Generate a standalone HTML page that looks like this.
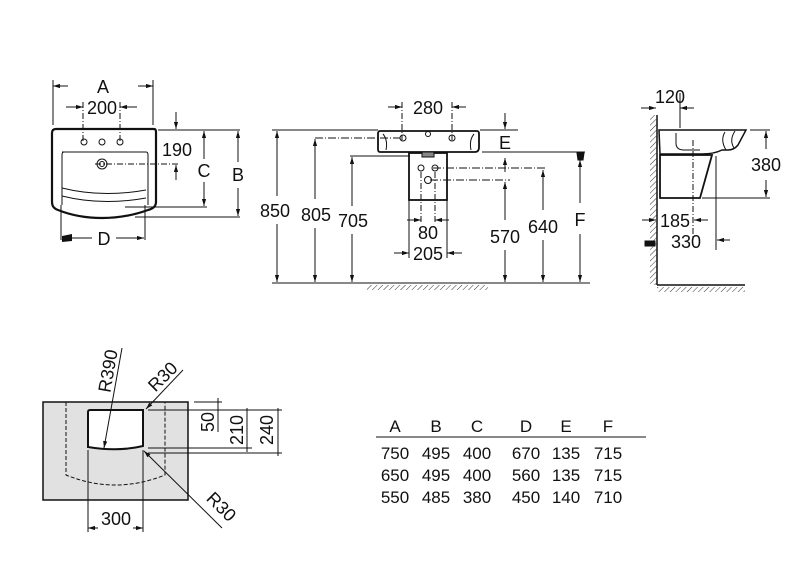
<!DOCTYPE html>
<html><head><style>body{margin:0;background:#fff}svg{display:block}text{font-family:"Liberation Sans",sans-serif;fill:#111}</style></head><body>
<svg width="800" height="574" viewBox="0 0 800 574" xmlns="http://www.w3.org/2000/svg">
<defs>
<marker id="a" viewBox="0 0 10 10" refX="10" refY="5" markerWidth="7" markerHeight="7" orient="auto-start-reverse"><path d="M0,2L10,5L0,8z" fill="#111"/></marker>
<pattern id="h" width="4" height="4" patternUnits="userSpaceOnUse" patternTransform="rotate(45)"><line x1="0" y1="0" x2="0" y2="4" stroke="#333" stroke-width="1"/></pattern>
</defs>
<g stroke="#111" stroke-width="1" fill="none">
<line x1="53" y1="80" x2="53" y2="125"/><line x1="153" y1="80" x2="153" y2="125"/>
<line x1="68" y1="86" x2="53" y2="86" marker-end="url(#a)"/><line x1="138" y1="86" x2="153" y2="86" marker-end="url(#a)"/>
<line x1="66" y1="107" x2="83" y2="107" marker-end="url(#a)"/><line x1="137" y1="107" x2="120" y2="107" marker-end="url(#a)"/>
<line x1="83" y1="102" x2="83" y2="142" stroke-dasharray="6,2,1,2"/><line x1="120" y1="102" x2="120" y2="142" stroke-dasharray="6,2,1,2"/>
<path d="M56,129H154Q156,129 156,132V202Q156,208 148,210Q126,218 102,218Q78,218 58,210Q52,208 52,202V133Q52,129 56,129Z" stroke-width="2.2"/>
<path d="M62,152H146Q148,152 148,155V205M62,205V155Q62,152 64,152"/>
<path d="M62,188Q102,198 146,190M62,196Q102,206 146,198"/>
<g stroke-width="1"><circle cx="84" cy="142" r="3"/><circle cx="102" cy="142" r="3"/><circle cx="120" cy="142" r="3"/><circle cx="102" cy="164" r="5"/><circle cx="102" cy="164" r="2.5"/></g>
<line x1="95" y1="164" x2="180" y2="164" stroke-dasharray="6,2,1,2"/>
<line x1="158" y1="130" x2="240" y2="130"/><line x1="125" y1="207" x2="207" y2="207"/><line x1="135" y1="217" x2="240" y2="217"/>
<line x1="176" y1="112" x2="176" y2="129" marker-end="url(#a)"/><line x1="176" y1="180" x2="176" y2="165" marker-end="url(#a)"/>
<line x1="204" y1="159" x2="204" y2="131" marker-end="url(#a)"/><line x1="204" y1="182" x2="204" y2="206" marker-end="url(#a)"/>
<line x1="238" y1="162" x2="238" y2="131" marker-end="url(#a)"/><line x1="238" y1="188" x2="238" y2="216" marker-end="url(#a)"/>
<line x1="61" y1="205" x2="61" y2="240"/><line x1="145" y1="205" x2="145" y2="240"/>
<line x1="92" y1="238" x2="62" y2="238" marker-end="url(#a)"/><line x1="116" y1="238" x2="144" y2="238" marker-end="url(#a)"/>
<line x1="272" y1="130" x2="378" y2="130"/><line x1="272" y1="283" x2="590" y2="283"/>
<rect x="367" y="285" width="121" height="5" fill="url(#h)" stroke="none"/>
<line x1="277" y1="196" x2="277" y2="131" marker-end="url(#a)"/><line x1="277" y1="224" x2="277" y2="282" marker-end="url(#a)"/>
<line x1="315" y1="199" x2="315" y2="139" marker-end="url(#a)"/><line x1="315" y1="228" x2="315" y2="282" marker-end="url(#a)"/>
<line x1="352" y1="206" x2="352" y2="157" marker-end="url(#a)"/><line x1="352" y1="234" x2="352" y2="282" marker-end="url(#a)"/>
<line x1="315" y1="138" x2="400" y2="138" stroke-dasharray="8,2,1,2"/>
<line x1="350" y1="156" x2="410" y2="156"/>
<path d="M380,131H477Q479,131 479,134V147Q479,152 475,152H380Q378,152 378,149V134Q378,131 380,131Z" stroke-width="1.8"/>
<path d="M383,134Q388,140 386,150M474,134Q469,140 471,150"/>
<rect x="409" y="153" width="38" height="47" stroke-width="1.8"/>
<rect x="422" y="152" width="12" height="5" fill="#888"/>
<circle cx="403" cy="138" r="3"/><circle cx="428" cy="134" r="2.5"/><circle cx="452" cy="138" r="3"/>
<circle cx="421" cy="168" r="3"/><circle cx="435" cy="168" r="3"/><circle cx="428" cy="180" r="3.5"/>
<line x1="402" y1="102" x2="402" y2="140" stroke-dasharray="6,2,1,2"/><line x1="452" y1="102" x2="452" y2="140" stroke-dasharray="6,2,1,2"/>
<line x1="388" y1="107" x2="402" y2="107" marker-end="url(#a)"/><line x1="466" y1="107" x2="452" y2="107" marker-end="url(#a)"/>
<line x1="433" y1="168" x2="547" y2="168" stroke-dasharray="8,2,1,2"/><line x1="430" y1="180" x2="510" y2="180" stroke-dasharray="8,2,1,2"/>
<line x1="480" y1="130" x2="518" y2="130"/><line x1="482" y1="152" x2="585" y2="152"/>
<line x1="505" y1="113" x2="505" y2="129" marker-end="url(#a)"/>
<line x1="505" y1="172" x2="505" y2="158" marker-end="url(#a)"/>
<line x1="505" y1="220" x2="505" y2="182" marker-end="url(#a)"/><line x1="505" y1="250" x2="505" y2="282" marker-end="url(#a)"/>
<line x1="543" y1="210" x2="543" y2="170" marker-end="url(#a)"/><line x1="543" y1="240" x2="543" y2="282" marker-end="url(#a)"/>
<line x1="580" y1="203" x2="580" y2="160" marker-end="url(#a)"/><line x1="580" y1="234" x2="580" y2="282" marker-end="url(#a)"/>
<path d="M577,153H584L583,160H578Z" fill="#111"/>
<line x1="409" y1="200" x2="409" y2="258"/><line x1="447" y1="200" x2="447" y2="258"/>
<line x1="421" y1="172" x2="421" y2="222" stroke-dasharray="6,2,1,2"/><line x1="435" y1="172" x2="435" y2="222" stroke-dasharray="6,2,1,2"/>
<line x1="407" y1="220" x2="421" y2="220" marker-end="url(#a)"/><line x1="449" y1="220" x2="435" y2="220" marker-end="url(#a)"/>
<line x1="394" y1="253" x2="409" y2="253" marker-end="url(#a)"/><line x1="462" y1="253" x2="447" y2="253" marker-end="url(#a)"/>
<line x1="657" y1="115" x2="657" y2="285" stroke-width="1.5"/><rect x="650" y="115" width="7" height="170" fill="url(#h)" stroke="none"/>
<line x1="657" y1="285" x2="745" y2="285" stroke-width="1.5"/><rect x="657" y="287" width="88" height="5" fill="url(#h)" stroke="none"/>
<path d="M659,130H746L738,145Q734,150 728,150L722,150Q714,154 702,154H660Z" stroke-width="1.5"/>
<path d="M725,132Q720,140 726,150M735,131Q729,140 734,148"/>
<path d="M676,133V143Q676,150 684,150H700"/>
<path d="M660,155H712L700,198H660Z" stroke-width="1.8"/>
<line x1="693" y1="140" x2="693" y2="240" stroke-dasharray="6,2,1,2"/>
<line x1="716" y1="156" x2="716" y2="250"/>
<line x1="680" y1="93" x2="680" y2="128"/>
<line x1="641" y1="108" x2="656" y2="108" marker-end="url(#a)"/><line x1="694" y1="108" x2="680" y2="108" marker-end="url(#a)"/>
<line x1="750" y1="130" x2="770" y2="130"/><line x1="702" y1="198" x2="770" y2="198"/>
<line x1="766" y1="149" x2="766" y2="131" marker-end="url(#a)"/><line x1="766" y1="180" x2="766" y2="197" marker-end="url(#a)"/>
<line x1="642" y1="220" x2="656" y2="220" marker-end="url(#a)"/><line x1="708" y1="220" x2="694" y2="220" marker-end="url(#a)"/>
<line x1="730" y1="240" x2="717" y2="240" marker-end="url(#a)"/>
<path d="M645,241H655V246H645Z" fill="#111"/>
<rect x="43" y="402" width="145" height="98" fill="#e1e1e1" stroke-width="1.5"/>
<path d="M66,402V475Q115,495 165,475V402" stroke-dasharray="4,2"/>
<path d="M90,410H143V446Q118,452 88,447V412Q88,410 90,410Z" fill="#fff" stroke-width="2"/>
<line x1="88" y1="450" x2="88" y2="532"/><line x1="143" y1="450" x2="143" y2="532"/>
<line x1="98" y1="528" x2="88" y2="528" marker-end="url(#a)"/><line x1="133" y1="528" x2="143" y2="528" marker-end="url(#a)"/>
<line x1="194" y1="402" x2="222" y2="402"/><line x1="148" y1="410" x2="282" y2="410"/><line x1="148" y1="448" x2="252" y2="448"/><line x1="148" y1="453" x2="282" y2="453"/>
<line x1="218" y1="398" x2="218" y2="432"/><line x1="247" y1="408" x2="247" y2="452"/><line x1="278" y1="408" x2="278" y2="456"/>
<line x1="122" y1="348" x2="104" y2="448" marker-end="url(#a)"/>
<line x1="183" y1="370" x2="146" y2="409" marker-end="url(#a)"/>
<line x1="222" y1="528" x2="144" y2="451" marker-end="url(#a)"/>
<line x1="376" y1="437" x2="646" y2="437"/>
</g>
<g font-size="18" text-anchor="middle">
<text x="103" y="93">A</text><text x="102" y="114">200</text><text x="177" y="156">190</text><text x="204" y="177">C</text><text x="238" y="181">B</text><text x="104" y="245">D</text>
<text x="275" y="217">850</text><text x="316" y="221">805</text><text x="353" y="227">705</text><text x="428" y="114">280</text><text x="505" y="149">E</text>
<text x="428" y="239">80</text><text x="428" y="260">205</text><text x="505" y="243">570</text><text x="543" y="233">640</text><text x="580" y="226">F</text>
<text x="670" y="103">120</text><text x="766" y="171">380</text><text x="675" y="227">185</text><text x="686" y="248">330</text>
<text x="116" y="525">300</text>
<text transform="translate(114,372) rotate(-80)">R390</text>
<text transform="translate(167,381) rotate(-45)">R30</text>
<text transform="translate(217,511) rotate(45)">R30</text>
<text transform="translate(214,422) rotate(-90)">50</text>
<text transform="translate(243,430) rotate(-90)">210</text>
<text transform="translate(273,430) rotate(-90)">240</text>
</g>
<g font-size="17" text-anchor="middle">
<text x="395" y="432">A</text><text x="436" y="432">B</text><text x="477" y="432">C</text><text x="526" y="432">D</text><text x="566" y="432">E</text><text x="608" y="432">F</text>
<text x="395" y="459">750</text><text x="436" y="459">495</text><text x="477" y="459">400</text><text x="526" y="459">670</text><text x="566" y="459">135</text><text x="608" y="459">715</text>
<text x="395" y="481">650</text><text x="436" y="481">495</text><text x="477" y="481">400</text><text x="526" y="481">560</text><text x="566" y="481">135</text><text x="608" y="481">715</text>
<text x="395" y="503">550</text><text x="436" y="503">485</text><text x="477" y="503">380</text><text x="526" y="503">450</text><text x="566" y="503">140</text><text x="608" y="503">710</text>
</g>
<path d="M62,236L72,234V241L62,242Z" fill="#111"/>
</svg>
</body></html>
